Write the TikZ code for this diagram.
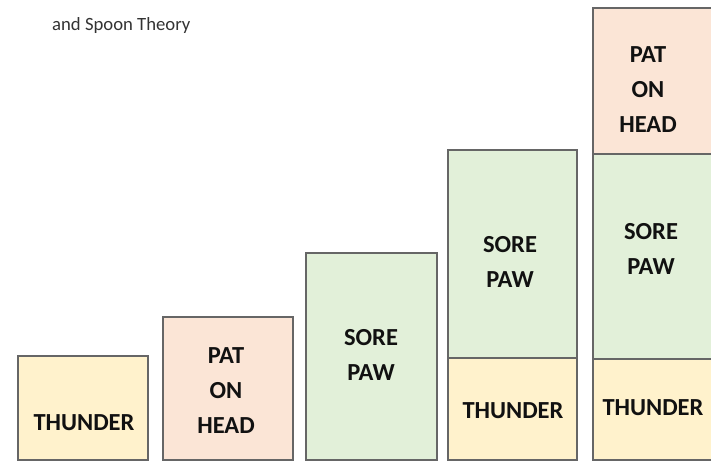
\documentclass[tikz,border=0pt]{standalone}
\usepackage{fontspec}
\setmainfont{Carlito}
\definecolor{yel}{HTML}{FFF2CC}
\definecolor{pnk}{HTML}{FBE5D6}
\definecolor{grn}{HTML}{E2F0D9}
\definecolor{edge}{HTML}{666666}
\definecolor{ttl}{HTML}{333333}
\definecolor{lbl}{HTML}{111111}
\begin{document}
\begin{tikzpicture}[x=1pt,y=-1pt,
  blk/.style={draw=edge,line width=1.8pt},
  lab/.style={font=\fontsize{24.5}{35}\selectfont\bfseries,text=lbl,align=center,inner sep=0pt}]
\useasboundingbox (0,0) rectangle (711,462);
\clip (0,0) rectangle (711,462);
\fill[white] (0,0) rectangle (711,462);
\node[anchor=base west,inner sep=0pt,text=ttl,font=\fontsize{18.7}{22}\selectfont] (title) at (52,31) {and Spoon Theory};
% column 1
\filldraw[blk,fill=yel] (18,356) rectangle (148,460);
\node[lab] (t1) at (84,423) {THUNDER};
% column 2
\filldraw[blk,fill=pnk] (163,317) rectangle (293,460);
\node[lab] (t2) at (226,391) {PAT\\ON\\HEAD};
% column 3
\filldraw[blk,fill=grn] (306,253) rectangle (437,460);
\node[lab] (t3) at (371,355) {SORE\\PAW};
% column 4
\filldraw[blk,fill=grn] (448,150) rectangle (577,358);
\filldraw[blk,fill=yel] (448,358) rectangle (577,460);
\node[lab] (t4a) at (510,262) {SORE\\PAW};
\node[lab] (t4b) at (513,411) {THUNDER};
% column 5
\filldraw[blk,fill=pnk] (593,8) rectangle (714,154);
\filldraw[blk,fill=grn] (593,154) rectangle (714,359);
\filldraw[blk,fill=yel] (593,359) rectangle (714,460);
\node[lab] (t5a) at (648,90) {PAT\\ON\\HEAD};
\node[lab] (t5b) at (651,249) {SORE\\PAW};
\node[lab] (t5c) at (653,408) {THUNDER};
\end{tikzpicture}
\end{document}
